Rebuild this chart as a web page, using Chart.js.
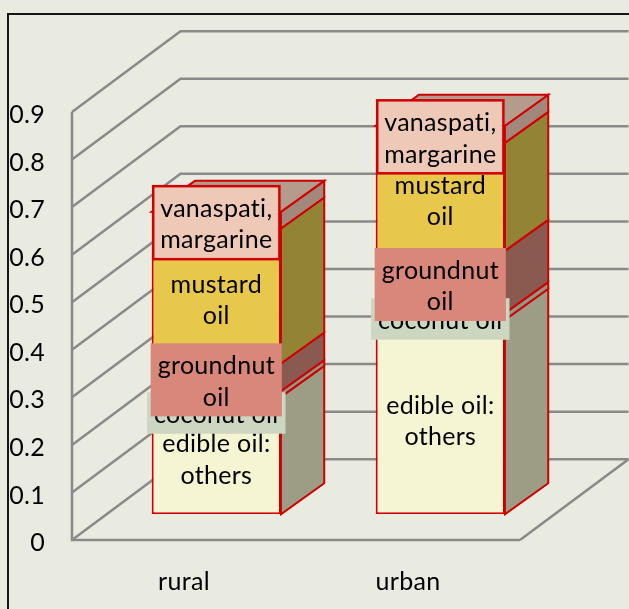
<!DOCTYPE html>
<html>
<head>
<meta charset="utf-8">
<style>
  html, body { margin: 0; padding: 0; background: #E9EBE0; }
  canvas { display: block; letter-spacing: 0.3px; }
</style>
<script src="https://cdn.jsdelivr.net/npm/chart.js@4.4.1/dist/chart.umd.min.js"></script>
</head>
<body>
<canvas id="chart" width="629" height="609"></canvas>
<script>
// ---------------- data ----------------
const categories = ['rural', 'urban'];
const seriesNames = [
  ['edible oil:', 'others'],
  ['coconut oil'],
  ['groundnut', 'oil'],
  ['mustard', 'oil'],
  ['vanaspati,', 'margarine']
];
const edibleOilOthers = [0.247, 0.409];
const coconutOil      = [0.012, 0.014];
const groundnutOil    = [0.058, 0.131];
const mustardOil      = [0.284, 0.227];
const vanaspatiMarg   = [0.035, 0.036];
const seriesValues = [edibleOilOthers, coconutOil, groundnutOil, mustardOil, vanaspatiMarg];
const yTickLabels = ['0', '0.1', '0.2', '0.3', '0.4', '0.5', '0.6', '0.7', '0.8', '0.9'];

// ---------------- style ----------------
const BG = '#E9EBE0';
const GRID = '#8A8A8A';
const RED = '#D00000';
const FONT = 'Lato';
const FS = 25;
const frontColors = ['#F5F5D3', '#CDD6C1', '#D8877A', '#E8C84B', '#EEC9B7'];
const sideColors  = ['#9D9D85', '#8E9A88', '#8A5A50', '#938334', '#A2877A'];
const topColor = '#B49C8C';
const labelFills = ['#F5F5D3', '#CDD6C1', '#D8877A', '#E8C84B', '#EEC9B7'];
const labelBorder = [false, false, false, false, true];
const labelNudgeAll = 2.5;
const labelNudge = { '1-0': 16.5 };   // dataset-category : extra vertical shift in px
const geo = {
  wall:  { dx: 108.5, dy: -80.8 },  // depth of the floor / side wall
  bar:   { dx: 32.3,  dy: -25.7 },  // position of bar fronts inside the depth
  depth: { dx: 43.3,  dy: -31.0 }   // depth of a bar
};
const label = { padX: 7, padY: 5, lineH: 31.5, baseShift: 10 };

function poly(ctx, pts, fill, stroke, lw) {
  ctx.beginPath();
  ctx.moveTo(pts[0][0], pts[0][1]);
  for (let k = 1; k < pts.length; k++) ctx.lineTo(pts[k][0], pts[k][1]);
  ctx.closePath();
  ctx.fillStyle = fill; ctx.fill();
  if (stroke) { ctx.strokeStyle = stroke; ctx.lineWidth = lw; ctx.lineJoin = 'miter'; ctx.stroke(); }
}

const threeD = {
  id: 'threeD',
  beforeDraw(chart) {
    const { ctx, width, height } = chart;
    if ('letterSpacing' in ctx) ctx.letterSpacing = '0.3px';
    ctx.save();
    ctx.fillStyle = BG;
    ctx.fillRect(0, 0, width, height);
    ctx.strokeStyle = '#151515';
    ctx.lineWidth = 2;
    ctx.strokeRect(8, 14, width + 40, height + 40);
    ctx.restore();
  },
  beforeDatasetsDraw(chart) {
    const { ctx, chartArea: a, scales } = chart;
    const y = scales.y;
    const W = geo.wall, B = geo.bar, D = geo.depth;
    ctx.save();
    ctx.strokeStyle = GRID;
    ctx.lineWidth = 2.5;
    // side wall diagonals + back wall gridlines
    y.ticks.forEach(t => {
      const py = y.getPixelForValue(t.value);
      ctx.beginPath();
      ctx.moveTo(a.left, py);
      ctx.lineTo(a.left + W.dx, py + W.dy);
      ctx.lineTo(a.right + W.dx, py + W.dy);
      ctx.stroke();
    });
    // floor right edge
    ctx.beginPath();
    ctx.moveTo(a.right, a.bottom);
    ctx.lineTo(a.right + W.dx, a.bottom + W.dy);
    ctx.stroke();
    // front vertical axis + floor front edge
    ctx.beginPath();
    ctx.moveTo(a.left, y.getPixelForValue(y.max));
    ctx.lineTo(a.left, a.bottom);
    ctx.lineTo(a.right, a.bottom);
    ctx.stroke();
    ctx.restore();

    // bar side and top faces
    ctx.save();
    const n = chart.data.datasets.length;
    for (let i = 0; i < n; i++) {
      const meta = chart.getDatasetMeta(i);
      meta.data.forEach(el => {
        const p = el.getProps(['x', 'y', 'base', 'width'], true);
        const xl = p.x - p.width / 2 + B.dx;
        const xr = p.x + p.width / 2 + B.dx;
        const yt = p.y + B.dy;
        const yb = p.base + B.dy;
        poly(ctx, [[xr, yt], [xr + D.dx, yt + D.dy], [xr + D.dx, yb + D.dy], [xr, yb]], sideColors[i], RED, 2);
        if (i === n - 1) {
          poly(ctx, [[xl, yt], [xr, yt], [xr + D.dx, yt + D.dy], [xl + D.dx, yt + D.dy]], topColor, RED, 2);
        }
      });
    }
    ctx.restore();
  },
  beforeDatasetDraw(chart) {
    chart.ctx.save();
    chart.ctx.translate(geo.bar.dx, geo.bar.dy);
  },
  afterDatasetDraw(chart) {
    chart.ctx.restore();
  },
  afterDatasetsDraw(chart) {
    const ctx = chart.ctx;
    const B = geo.bar;
    ctx.save();
    ctx.font = FS + 'px ' + FONT;
    if ('letterSpacing' in ctx) ctx.letterSpacing = '0.3px';
    ctx.textAlign = 'center';
    ctx.textBaseline = 'alphabetic';
    chart.data.datasets.forEach((ds, i) => {
      const meta = chart.getDatasetMeta(i);
      const lines = seriesNames[i];
      meta.data.forEach((el, j) => {
        const p = el.getProps(['x', 'y', 'base'], true);
        const tw = Math.max(...lines.map(l => ctx.measureText(l).width));
        const w = tw + 2 * label.padX;
        const h = lines.length * label.lineH + 2 * label.padY;
        const cx = p.x + B.dx;
        const cy = (p.y + p.base) / 2 + B.dy + labelNudgeAll + (labelNudge[i + '-' + j] || 0);
        ctx.fillStyle = labelFills[i];
        ctx.fillRect(cx - w / 2, cy - h / 2, w, h);
        if (labelBorder[i]) {
          ctx.strokeStyle = RED;
          ctx.lineWidth = 2.5;
          ctx.strokeRect(cx - w / 2, cy - h / 2, w, h);
        }
        ctx.fillStyle = '#000';
        lines.forEach((l, k) => {
          const ly = cy + (k - (lines.length - 1) / 2) * label.lineH + label.baseShift;
          ctx.fillText(l, cx, ly);
        });
      });
    });
    ctx.restore();
  }
};

Chart.defaults.font.family = FONT;
Chart.defaults.font.size = FS;
Chart.defaults.color = '#000';

new Chart(document.getElementById('chart'), {
  type: 'bar',
  data: {
    labels: categories,
    datasets: seriesValues.map((vals, i) => ({
      label: seriesNames[i].join(' '),
      data: vals,
      backgroundColor: frontColors[i],
      borderColor: RED,
      borderWidth: 2,
      borderSkipped: false,
      categoryPercentage: 1,
      barPercentage: 0.577
    }))
  },
  options: {
    responsive: false,
    devicePixelRatio: 1,
    animation: false,
    events: [],
    layout: { padding: { left: 0, right: 109, top: 112, bottom: 0 } },
    plugins: { legend: { display: false }, tooltip: { enabled: false } },
    scales: {
      x: {
        stacked: true,
        offset: true,
        grid: { display: false, drawTicks: false },
        border: { display: false },
        ticks: { padding: 27, font: { size: FS } },
        afterFit(s) { s.height = 69; }
      },
      y: {
        stacked: true,
        min: 0,
        max: 0.9,
        grid: { display: false, drawTicks: false },
        border: { display: false },
        ticks: {
          stepSize: 0.1,
          padding: 27,
          labelOffset: 3,
          font: { size: FS },
          callback: v => yTickLabels[Math.round(v * 10)]
        },
        afterFit(s) { s.width = 72; }
      }
    }
  },
  plugins: [threeD]
});
</script>
</body>
</html>
